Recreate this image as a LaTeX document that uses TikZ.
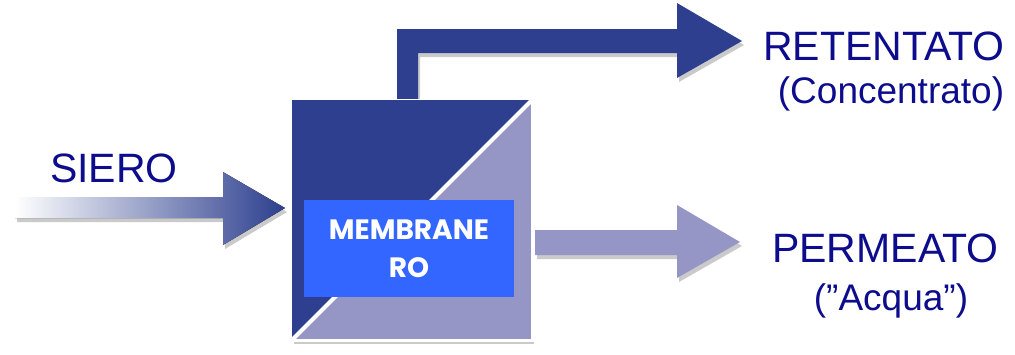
\documentclass[tikz,border=0pt]{standalone}
\usepackage{fontspec}
\setmainfont{Liberation Sans}
\newfontfamily\popfont{Poppins}
\usetikzlibrary{shadows}
\definecolor{dkblue}{HTML}{2D3F8E}
\definecolor{ltblue}{HTML}{9696C6}
\definecolor{brblue}{HTML}{3366FF}
\definecolor{txtblue}{HTML}{0C0C8C}
\begin{document}
\begin{tikzpicture}[x=1pt,y=-1pt,
  shd/.style={drop shadow={shadow xshift=2pt, shadow yshift=-4pt, opacity=0.35, fill=black!60}},
  lbl/.style={text=txtblue, inner sep=0, anchor=base west, font=\fontsize{41}{45}\selectfont},
  sublbl/.style={text=txtblue, inner sep=0, anchor=base, font=\fontsize{37}{41}\selectfont},
  unitbox/.style={rectangle, fill=ltblue, draw=white, line width=3pt, minimum width=240pt, minimum height=240pt, outer sep=0pt, inner sep=0pt},
  membox/.style={rectangle, fill=brblue, minimum width=210pt, minimum height=97pt, inner sep=0pt, text=white, align=center, font=\popfont\bfseries\fontsize{28}{38}\selectfont}]
\useasboundingbox (0,0) rectangle (1015,354);
% permeate arrow
\fill[ltblue, shd] (535,230) -- (677,230) -- (677,205) -- (740,242) -- (677,278) -- (677,255) -- (535,255) -- cycle;
% retentate pipe
\fill[dkblue, shd] (397,102) -- (397,29) -- (677,29) -- (677,3) -- (742,41) -- (677,78) -- (677,53) -- (418,53) -- (418,102) -- cycle;
% feed arrow
\fill[shd, left color=white, right color=dkblue] (15,197) -- (223,197) -- (223,172) -- (285,208) -- (223,245) -- (223,218) -- (15,218) -- cycle;
% unit
\node[unitbox, shd] (box) at (412,220) {};
\fill[dkblue] (box.north west) -- (box.north east) -- (box.south west) -- cycle;
\draw[white, line width=4pt] (box.north east) -- (box.south west);
\node[membox] (mem) at (409,248.5) {MEMBRANE\\RO};
% labels
\node[lbl] (siero) at (50,182) {SIERO};
\node[lbl] (ret) at (763,60) {RETENTATO};
\node[sublbl] (conc) at (891,103) {(Concentrato)};
\node[lbl] (perm) at (772,262) {PERMEATO};
\node[sublbl] (acq) at (891,310) {(”Acqua”)};
\end{tikzpicture}
\end{document}
